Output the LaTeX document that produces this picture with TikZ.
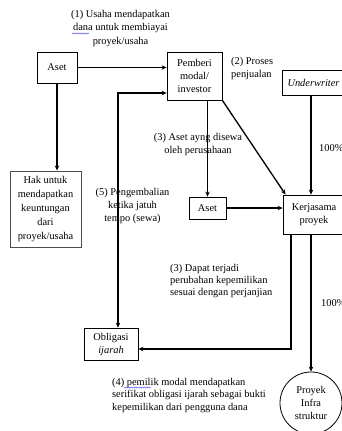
\documentclass[tikz,border=0pt]{standalone}
\usepackage{fontspec}
\setmainfont{Liberation Serif}
\usetikzlibrary{arrows.meta,decorations.pathmorphing}
\begin{document}
\begin{tikzpicture}[x=1pt,y=-1pt,
  txt/.style={font=\fontsize{10.4}{13}\selectfont, inner sep=0pt, align=center},
  box/.style={draw, line width=0.8pt, inner sep=0pt, align=center, font=\fontsize{10.4}{13}\selectfont},
  conn/.style={line width=1.3pt, -{Stealth[length=5pt,width=4.5pt]}},
  squig/.style={draw=blue!70, line width=0.4pt, decorate, decoration={snake, segment length=2.2pt, amplitude=0.6pt}}
]
\useasboundingbox (0,0) rectangle (342,431);
% boxes
\node[box, minimum width=40pt, minimum height=31pt] (aset1) at (57,67.5) {Aset};
\node[box, minimum width=55pt, minimum height=48pt] (pemberi) at (194.5,76) {Pemberi\\modal/\\investor};
\node[box, minimum width=63pt, minimum height=25pt] (under) at (313.5,82.5) {\itshape Underwriter};
\node[box, draw=black!70, line width=1pt, minimum width=71pt, minimum height=76pt, font=\fontsize{10.4}{14}\selectfont] (hak) at (45.5,209) {Hak untuk\\mendapatkan\\keuntungan\\dari\\proyek/usaha};
\node[box, minimum width=37pt, minimum height=22pt] (aset2) at (207.5,208) {Aset};
\node[box, minimum width=62pt, minimum height=39pt] (kerja) at (314,214.5) {Kerjasama\\proyek};
\node[box, minimum width=54pt, minimum height=32pt] (oblig) at (111,344) {Obligasi\\\itshape ijarah};
\node[box, circle, minimum size=62pt] (infra) at (311,403) {Proyek\\Infra\\struktur};
% labels
\node[txt, font=\fontsize{10.4}{13.5}\selectfont] (l1) at (120.5,28.5) {(1) Usaha mendapatkan\\dana untuk membiayai\\proyek/usaha};
\node[txt, anchor=west, align=left] (l2) at (231,68.5) {(2) Proses\\penjualan};
\node[txt] (l3a) at (198,144.5) {(3) Aset ayng disewa\\oleh perusahaan};
\node[txt] (l5) at (132.5,206) {(5) Pengembalian\\ketika jatuh\\tempo (sewa)};
\node[txt, anchor=west] (p1) at (319,148) {100\%};
\node[txt, anchor=west] (p2) at (321,303) {100\%};
\node[txt, anchor=west, align=left, font=\fontsize{10.4}{12}\selectfont] (l3b) at (170,281.5) {(3) Dapat terjadi\\perubahan kepemilikan\\sesuai dengan perjanjian};
\node[txt, anchor=west, align=left, font=\fontsize{10.4}{12.5}\selectfont] (l4) at (112,395.5) {(4) pemilik modal mendapatkan\\serifikat obligasi ijarah sebagai bukti\\kepemilikan dari pengguna dana};
% spell-check squiggles
\coordinate (s1a) at (72,33.5); \coordinate (s1b) at (89,33.5);
\path[squig] (s1a) -- (s1b);
\coordinate (s4a) at (124,387.5); \coordinate (s4b) at (151,387.5);
\path[squig] (s4a) -- (s4b);
% connectors
\draw[conn] (aset1.east) -- (aset1.east -| pemberi.west);
\draw[conn] (aset1.south) -- (aset1.south |- hak.north);
\coordinate (c5) at (118,93);
\draw[line width=1.3pt, {Stealth[length=5pt,width=4.5pt]}-{Stealth[length=5pt,width=4.5pt]}] (c5 -| pemberi.west) -- (c5) -- (c5 |- oblig.north);
\draw[conn] (aset2.north |- pemberi.south) -- (aset2.north);
\draw[conn] (pemberi.south east) -- ([xshift=3pt]kerja.north west);
\coordinate (cu) at (311,95);
\draw[conn] (cu) -- (cu |- kerja.north);
\draw[conn] (aset2.east) -- (aset2.east -| kerja.west);
\coordinate (k1) at (291,349);
\draw[conn] (k1 |- kerja.south) -- (k1) -- (k1 -| oblig.east);
\draw[conn] (infra.north |- kerja.south) -- (infra.north);
\end{tikzpicture}
\end{document}
